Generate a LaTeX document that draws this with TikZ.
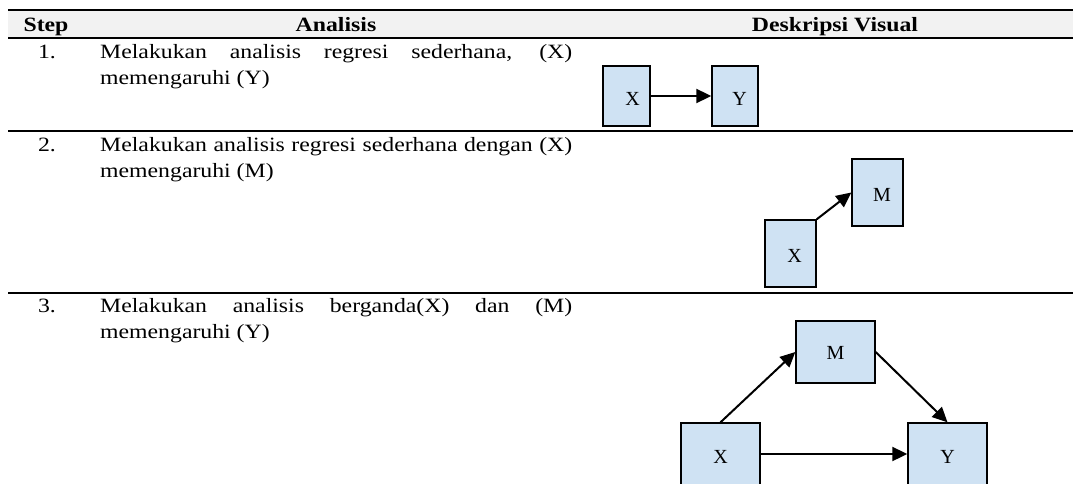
\documentclass[tikz,border=0pt]{standalone}
\usepackage{fontspec}
\setmainfont{Liberation Serif}[FakeStretch=1.17]
\newfontfamily\boxfont{Liberation Serif}
\usetikzlibrary{arrows.meta}
\definecolor{boxblue}{RGB}{207,226,243}
\definecolor{headgray}{RGB}{242,242,242}
\begin{document}
\begin{tikzpicture}[x=1pt,y=-1pt,
  font=\fontsize{20.3}{24}\selectfont,
  rule/.style={line width=2pt},
  txt/.style={anchor=base west, inner sep=0pt},
  num/.style={anchor=base, inner sep=0pt},
  head/.style={anchor=base, inner sep=0pt, font=\fontsize{20.3}{24}\selectfont\bfseries},
  vbox/.style={draw, line width=1.4pt, fill=boxblue, inner sep=0pt, text depth=0pt,
    font=\boxfont\fontsize{20}{24}\selectfont},
  arr/.style={line width=2pt, -{Triangle[length=15pt,width=14pt]}}]
\clip (0,0) rectangle (1073,484);
\fill[white] (0,0) rectangle (1073,484);
% header
\fill[headgray] (8,10) rectangle (1073,38);
\draw[rule] (8,10) -- (1073,10);
\draw[rule] (8,38.5) -- (1073,38.5);
\draw[rule] (8,131.5) -- (1073,131.5);
\draw[rule] (8,292.5) -- (1073,292.5);
\node[head] (hs) at (46,32) {Step};
\node[head] (ha) at (336,32) {Analisis};
\node[head] (hd) at (835,32) {Deskripsi Visual};
% row 1
\node[num] (n1) at (47,58.5) {1.};
\node[txt] (a1) at (100,58.5) {\makebox[472pt][s]{Melakukan analisis regresi sederhana, (X)}};
\node[txt] (b1) at (100,84.5) {memengaruhi (Y)};
\node[vbox, minimum width=47pt, minimum height=60pt, text height=19pt] (x1) at (626.5,96) {\hspace*{12pt}X};
\node[vbox, minimum width=46pt, minimum height=60pt, text height=19pt] (y1) at (735,96) {\hspace*{9pt}Y};
\draw[arr] (x1) -- (y1);
% row 2
\node[num] (n2) at (47,151.5) {2.};
\node[txt] (a2) at (100,151.5) {\makebox[472pt][s]{Melakukan analisis regresi sederhana dengan (X)}};
\node[txt] (b2) at (100,177.5) {memengaruhi (M)};
\node[vbox, minimum width=51pt, minimum height=67pt, text height=17pt] (m2) at (877.5,192.5) {\hspace*{9pt}M};
\node[vbox, minimum width=51pt, minimum height=67pt, text height=18pt] (x2) at (790.5,253.5) {\hspace*{8pt}X};
\draw[arr] (x2.north east) -- (m2.west);
% row 3
\node[num] (n3) at (47,312.5) {3.};
\node[txt] (a3) at (100,312.5) {\makebox[472pt][s]{Melakukan analisis berganda(X) dan (M)}};
\node[txt] (b3) at (100,338.5) {memengaruhi (Y)};
\node[vbox, minimum width=79pt, minimum height=62pt, text height=15pt] (m3) at (835.5,352) {M};
\node[vbox, minimum width=79pt, minimum height=62pt, text height=18.5pt] (x3) at (720.5,454) {X};
\node[vbox, minimum width=79pt, minimum height=62pt, text height=18.5pt] (y3) at (947.5,454) {Y};
\draw[arr] (x3.north) -- (m3.west);
\draw[arr] (m3.east) -- (y3.north);
\draw[arr] (x3.east) -- (y3.west);
\end{tikzpicture}
\end{document}
